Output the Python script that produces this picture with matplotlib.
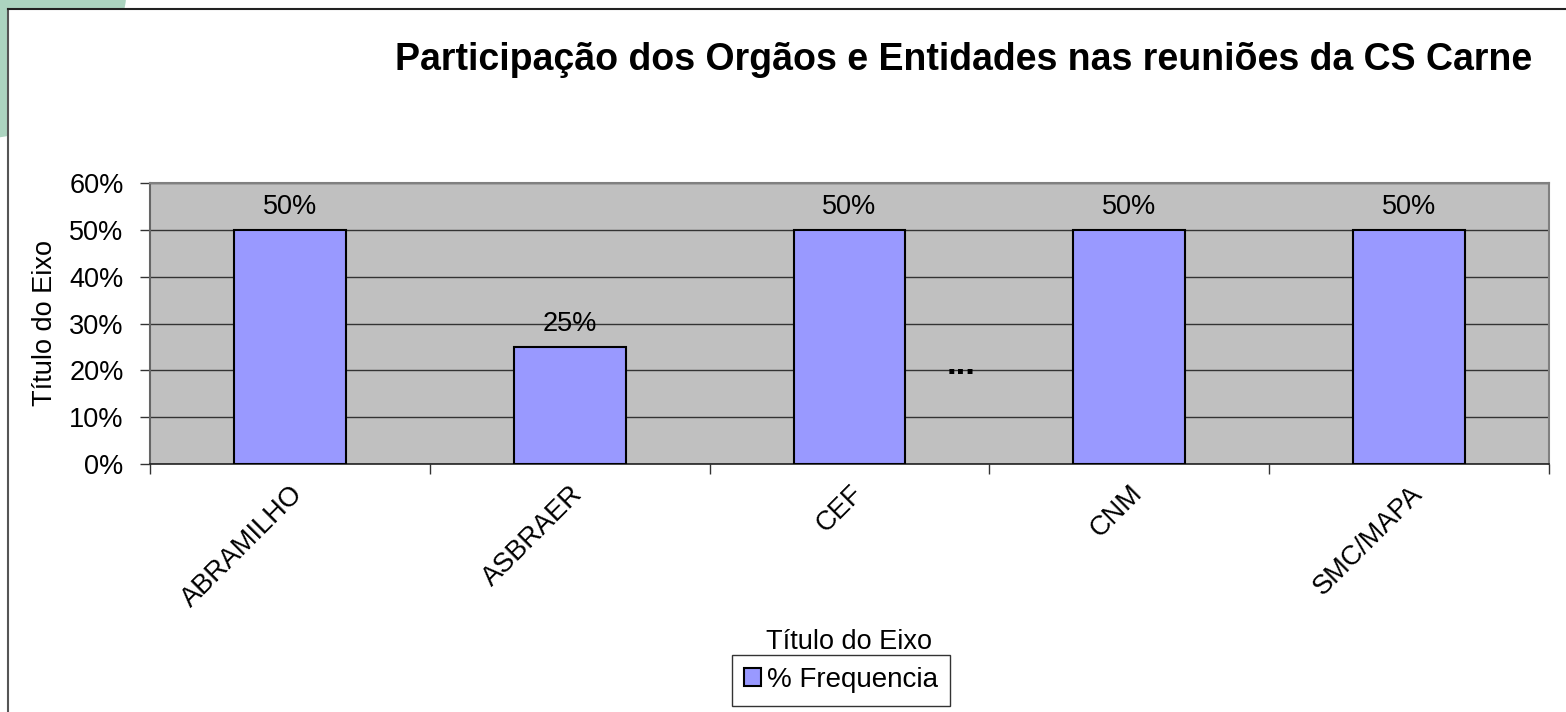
import matplotlib
matplotlib.use("Agg")
import matplotlib.pyplot as plt
from matplotlib.patches import Ellipse, Rectangle
from matplotlib.lines import Line2D
from matplotlib.ticker import PercentFormatter, FixedLocator, NullFormatter

plt.rcParams['font.family'] = ['Liberation Sans', 'DejaVu Sans']

categories = ["ABRAMILHO", "ASBRAER", "CEF", "CNM", "SMC/MAPA"]
values = [0.50, 0.25, 0.50, 0.50, 0.50]
series_name = "% Frequencia"
title = "Participação dos Orgãos e Entidades nas reuniões da CS Carne"
axis_title = "Título do Eixo"
yticks = [0, 0.1, 0.2, 0.3, 0.4, 0.5, 0.6]

FS = 19.5
W, H = 1566, 712
fig = plt.figure(figsize=(W / 100, H / 100), dpi=100)

# green decorative corner behind the frame
corner = Ellipse((-0.012, 1.03), width=2 * 146 / W, height=2 * 160 / H,
                 transform=fig.transFigure, facecolor='#acd4c0', edgecolor='none', zorder=0)
fig.patches.append(corner)
# white chart area with frame (left + top lines)
fig.patches.append(Rectangle((8 / W, 0), 1, 1 - 9 / H, transform=fig.transFigure,
                             facecolor='white', edgecolor='none', zorder=1))
fig.lines.append(Line2D([8 / W, 8 / W], [0, 1 - 9 / H], transform=fig.transFigure,
                        color='#555555', lw=1.5, zorder=2))
fig.lines.append(Line2D([8 / W, 1], [1 - 9 / H, 1 - 9 / H], transform=fig.transFigure,
                        color='#222222', lw=1.5, zorder=2))

ax = fig.add_axes([150 / W, 248 / H, 1399 / W, 281 / H], zorder=3)
ax.set_facecolor('#c0c0c0')

x = list(range(len(categories)))
bars = ax.bar(x, values, width=0.4, color='#9999ff', edgecolor='black', linewidth=1.5,
              label=series_name, zorder=3)
ax.bar_label(bars, labels=[f"{v:.0%}" for v in values], padding=7, fontsize=FS)

ax.set_xlim(-0.5, len(categories) - 0.5)
ax.set_ylim(0, 0.6)
ax.yaxis.set_major_locator(FixedLocator(yticks))
ax.yaxis.set_major_formatter(PercentFormatter(1.0, decimals=0))
ax.grid(axis='y', color='#333333', linewidth=1, zorder=1)
ax.set_axisbelow(True)

# category boundary ticks, labels at centres
ax.set_xticks([i - 0.5 for i in range(len(categories) + 1)])
ax.xaxis.set_major_formatter(NullFormatter())
ax.set_xticks(x, minor=True)
ax.set_xticklabels(categories, minor=True, rotation=45, ha='right', va='top',
                   rotation_mode='anchor', fontsize=FS)
ax.tick_params(axis='x', which='minor', length=0, pad=12)
ax.tick_params(axis='x', which='major', length=7, width=1, color='#333333')
ax.tick_params(axis='y', length=7, width=1, color='#333333', labelsize=FS, pad=12)

for side in ['top', 'right']:
    ax.spines[side].set_color('#808080')
    ax.spines[side].set_linewidth(1.5)
ax.spines['left'].set_color('#666666')
ax.spines['left'].set_linewidth(1.5)
ax.spines['bottom'].set_color('#222222')
ax.spines['bottom'].set_linewidth(1.2)

ax.set_ylabel(axis_title, fontsize=FS, labelpad=8)
ax.set_xlabel(axis_title, fontsize=FS, labelpad=12)

ax.text(2.4, 0.213, "...", ha='center', va='center', fontsize=25, fontweight='bold', zorder=4)

fig.text(964 / W, 1 - 60 / H, title, ha='center', va='center', fontsize=27,
         fontweight='bold', zorder=5)

leg = fig.legend(handles=[bars], labels=[series_name], loc='center',
                 bbox_to_anchor=(841 / W, 1 - 680 / H), frameon=True, fancybox=False,
                 edgecolor='black', fontsize=20, handlelength=0.6, handleheight=0.6,
                 handletextpad=0.2, borderpad=0.45, borderaxespad=0)
leg.get_frame().set_linewidth(1)
leg.set_zorder(5)

fig.savefig("out.png", dpi=100)
